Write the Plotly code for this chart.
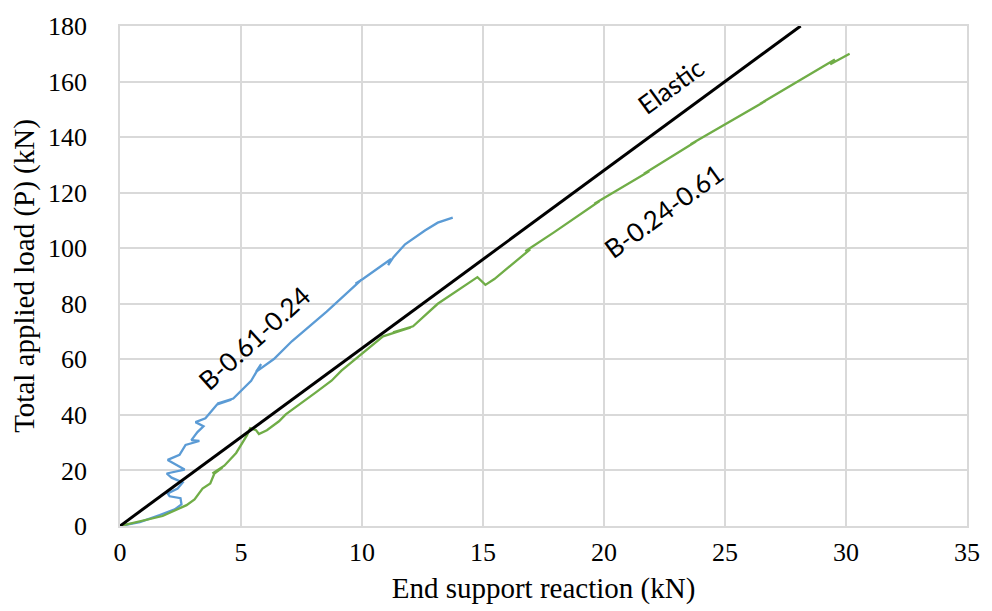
import plotly.graph_objects as go

# End support reaction (kN) / Total applied load (kN)
blue_x = [0, 0.82, 1.64, 2.26, 2.54, 2.50, 2.05, 1.97, 2.38, 2.59, 2.13, 1.93, 2.67, 2.13, 1.97,
          2.46, 2.71, 3.28, 2.95, 3.20, 3.45, 3.12, 3.53, 4.02, 4.60, 4.02, 4.68, 5.42, 5.83,
          5.62, 6.36, 7.10, 8.54, 9.97, 9.73, 10.05, 11.20, 11.08, 11.30, 11.78, 12.60, 13.13, 13.75]
blue_y = [0, 1.4, 3.9, 6.0, 7.8, 10.0, 10.7, 11.7, 13.5, 15.7, 17.4, 18.9, 20.3, 22.8, 23.8,
          25.6, 29.2, 30.6, 30.9, 33.8, 35.9, 37.4, 38.8, 43.8, 45.5, 44.1, 45.9, 52.3, 58.3,
          55.5, 60.1, 66.5, 77.2, 88.6, 87.2, 89.0, 96.1, 93.9, 96.8, 101.4, 106.4, 109.2, 111.0]

green_x = [0, 1.76, 2.75, 3.08, 3.41, 3.73, 3.90, 4.23, 3.82, 4.31, 4.80, 5.25, 5.38, 5.62, 5.74,
           6.07, 6.57, 6.85, 8.08, 8.74, 9.15, 10.87, 12.02, 11.28, 12.11, 13.13, 14.77, 15.10,
           15.47, 16.95, 16.75, 17.93, 19.82, 19.60, 21.87, 21.65, 23.80, 23.58, 26.67, 26.45,
           29.54, 29.35, 30.15]
green_y = [0, 3.6, 7.5, 9.6, 13.5, 15.3, 18.9, 21.0, 18.9, 21.7, 26.3, 32.7, 35.2, 34.5, 33.1,
           34.5, 37.7, 40.2, 48.0, 52.3, 55.9, 68.3, 71.5, 69.7, 71.9, 80.0, 89.6, 86.8,
           88.9, 99.6, 98.9, 105.7, 117.0, 116.0, 127.7, 126.8, 138.4, 137.4, 153.0, 152.0,
           167.9, 166.2, 170.0]

elastic_x = [0, 28.125]
elastic_y = [0, 180]

x_ticks = [0, 5, 10, 15, 20, 25, 30, 35]
y_ticks = [0, 20, 40, 60, 80, 100, 120, 140, 160, 180]

fig = go.Figure()
fig.add_trace(go.Scatter(x=blue_x, y=blue_y, mode="lines",
                         line=dict(color="#5B9BD5", width=2.3), name="B-0.61-0.24"))
fig.add_trace(go.Scatter(x=green_x, y=green_y, mode="lines",
                         line=dict(color="#70AD47", width=2.3), name="B-0.24-0.61"))
fig.add_trace(go.Scatter(x=elastic_x, y=elastic_y, mode="lines",
                         line=dict(color="black", width=3), name="Elastic"))

lab_font = dict(family="Lato", size=26, color="black")
fig.add_annotation(x=22.75, y=158.3, text="Elastic", showarrow=False, textangle=-36, font=lab_font)
fig.add_annotation(x=5.54, y=67.6, text="B-0.61-0.24", showarrow=False, textangle=-42, font=lab_font)
fig.add_annotation(x=22.45, y=113.5, text="B-0.24-0.61", showarrow=False, textangle=-36, font=lab_font)

serif = "Liberation Serif"
tick_font = dict(family=serif, size=26, color="black")
title_font = dict(family=serif, size=29, color="black")
fig.update_layout(
    width=992, height=611,
    margin=dict(l=120, r=19, t=21, b=84),
    plot_bgcolor="white", paper_bgcolor="white",
    showlegend=False,
    font=dict(family=serif, size=26, color="black"),
)
fig.update_xaxes(range=[0, 35], tickvals=x_ticks, showgrid=True, gridcolor="#d9d9d9", gridwidth=1.5,
                 zeroline=False, showline=True, linecolor="#d9d9d9", linewidth=1.5, mirror=True,
                 ticks="outside", ticklen=0, ticklabelstandoff=2,
                 title=dict(text="End support reaction (kN)", font=title_font, standoff=12),
                 tickfont=tick_font)
fig.update_yaxes(range=[0, 180], tickvals=y_ticks, showgrid=True, gridcolor="#d9d9d9", gridwidth=1.5,
                 zeroline=False, showline=True, linecolor="#d9d9d9", linewidth=1.5, mirror=True,
                 ticks="outside", ticklen=0, ticklabelstandoff=26,
                 title=dict(text="Total applied load (P) (kN)", font=title_font, standoff=5),
                 tickfont=tick_font)

fig.write_html("out.html")
